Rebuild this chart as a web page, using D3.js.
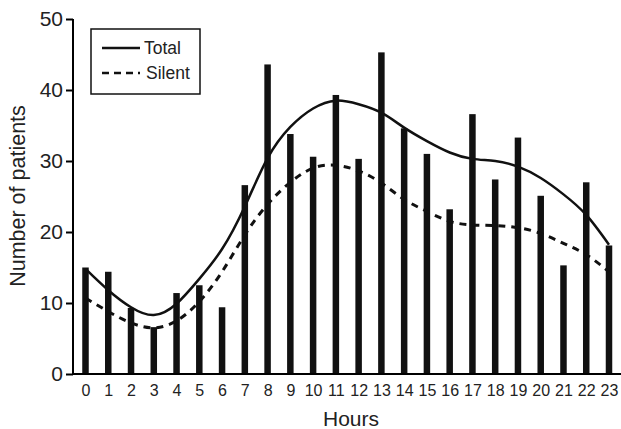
<!DOCTYPE html>
<html>
<head>
<meta charset="utf-8">
<script src="https://cdn.jsdelivr.net/npm/d3@7"></script>
<style>
  body { margin: 0; background: #fff; }
  svg { display: block; font-family: "Liberation Sans", Arial, sans-serif; }
</style>
</head>
<body>
<div id="chart"></div>
<script>
const hours = d3.range(24);
const totalBars = [15, 14.4, 9.3, 6.6, 11.4, 12.5, 9.4, 26.6, 43.6, 33.8, 30.6, 39.3,
  30.3, 45.3, 34.6, 31.0, 23.2, 36.6, 27.4, 33.3, 25.1, 15.3, 27.0, 18.1];
const totalCurve = [14.8, 11.8, 9.4, 8.3, 9.9, 13.4, 17.6, 23.6, 30.4, 34.8, 37.4, 38.5,
  38.0, 36.8, 34.7, 32.8, 31.2, 30.3, 30.0, 29.2, 27.6, 25.3, 22.4, 18.2];
const silentCurve = [10.7, 8.8, 7.2, 6.5, 7.5, 10.2, 14.4, 19.6, 23.9, 27.0, 29.0, 29.4,
  28.6, 26.9, 24.6, 22.9, 21.5, 21.0, 20.9, 20.6, 19.8, 18.4, 16.8, 14.4];
const yTicks = [0, 10, 20, 30, 40, 50];

const width = 621;
const height = 429;

const svg = d3.select("#chart")
  .append("svg")
  .attr("width", width)
  .attr("height", height);

const x = d3.scalePoint()
  .domain(hours)
  .range([85.5, 609]);

const y = d3.scaleLinear()
  .domain([0, 50])
  .range([374, 19]);

// bars
svg.append("g")
  .attr("fill", "#111")
  .selectAll("rect")
  .data(hours)
  .join("rect")
  .attr("x", d => x(d) - 3.25)
  .attr("y", d => y(totalBars[d]))
  .attr("width", 6.5)
  .attr("height", d => y(0) - y(totalBars[d]));

const line = d3.line()
  .x((d, i) => x(i))
  .y(d => y(d))
  .curve(d3.curveNatural);

svg.append("path")
  .datum(totalCurve)
  .attr("d", line)
  .attr("fill", "none")
  .attr("stroke", "#111")
  .attr("stroke-width", 2.5);

svg.append("path")
  .datum(silentCurve)
  .attr("d", line)
  .attr("fill", "none")
  .attr("stroke", "#111")
  .attr("stroke-width", 3)
  .attr("stroke-dasharray", "7,6");

// axes
svg.append("g")
  .attr("transform", "translate(73,0)")
  .call(d3.axisLeft(y).tickValues(yTicks).tickSize(7).tickPadding(3))
  .call(g => g.select(".domain").attr("d", `M0,${y(50)}V${y(0)}`).attr("stroke-width", 2))
  .call(g => g.selectAll(".tick line").attr("stroke-width", 2))
  .call(g => g.selectAll("text").attr("font-size", 21).attr("fill", "#222"));

svg.append("g")
  .attr("transform", `translate(0,${y(0)})`)
  .call(d3.axisBottom(x).tickSize(0).tickPadding(11))
  .call(g => g.select(".domain").attr("d", "M72,0H621").attr("stroke-width", 2))
  .call(g => g.selectAll("text").attr("font-size", 16).attr("fill", "#222"));

svg.append("text")
  .attr("x", 351)
  .attr("y", 426)
  .attr("text-anchor", "middle")
  .attr("font-size", 21)
  .attr("fill", "#222")
  .text("Hours");

svg.append("text")
  .attr("transform", "translate(25,196) rotate(-90)")
  .attr("text-anchor", "middle")
  .attr("font-size", 21.5)
  .attr("fill", "#222")
  .text("Number of patients");

// legend
const legend = svg.append("g");
legend.append("rect")
  .attr("x", 91).attr("y", 29)
  .attr("width", 109).attr("height", 65)
  .attr("fill", "#fff")
  .attr("stroke", "#111")
  .attr("stroke-width", 1.5);
legend.append("line")
  .attr("x1", 102).attr("x2", 140).attr("y1", 48).attr("y2", 48)
  .attr("stroke", "#111").attr("stroke-width", 2.5);
legend.append("line")
  .attr("x1", 102).attr("x2", 140).attr("y1", 73).attr("y2", 73)
  .attr("stroke", "#111").attr("stroke-width", 2.5)
  .attr("stroke-dasharray", "7,5");
legend.append("text")
  .attr("x", 144).attr("y", 54)
  .attr("font-size", 17.5).attr("fill", "#222")
  .text("Total");
legend.append("text")
  .attr("x", 146).attr("y", 79)
  .attr("font-size", 17.5).attr("fill", "#222")
  .text("Silent");
</script>
</body>
</html>
